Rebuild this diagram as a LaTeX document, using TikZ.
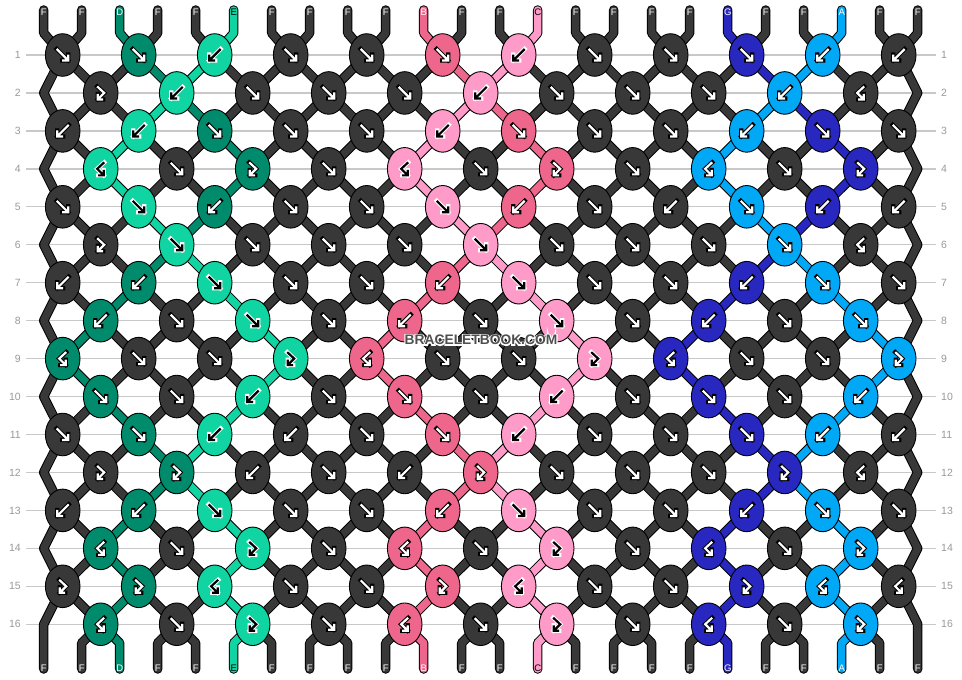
\documentclass[tikz,border=0pt]{standalone}
\usepackage{fontspec}
\setmainfont{Liberation Sans}
\definecolor{cF}{HTML}{383838}
\definecolor{cD}{HTML}{008B6C}
\definecolor{cE}{HTML}{10D4A2}
\definecolor{cB}{HTML}{EE668B}
\definecolor{cC}{HTML}{FF9BC8}
\definecolor{cG}{HTML}{2828C0}
\definecolor{cA}{HTML}{00A8F6}
\definecolor{rowline}{HTML}{C8C8C8}
\definecolor{numgray}{HTML}{999999}
\definecolor{wmgray}{HTML}{505050}
\colorlet{tF}{white}\colorlet{tD}{white}\colorlet{tE}{black}\colorlet{tB}{white}
\colorlet{tC}{black}\colorlet{tG}{white}\colorlet{tA}{white}
% knot types: 1 = forward, 2 = backward, 3 = forward-backward, 4 = backward-forward
\expandafter\def\csname types1\endcsname{1,1,2,1,1,1,2,1,1,1,2,2}
\expandafter\def\csname types2\endcsname{3,2,1,1,1,2,1,1,1,2,4}
\expandafter\def\csname types3\endcsname{2,2,1,1,1,2,1,1,1,2,1,1}
\expandafter\def\csname types4\endcsname{4,1,3,1,4,1,3,1,4,1,3}
\expandafter\def\csname types5\endcsname{1,1,2,1,1,1,2,1,2,1,2,2}
\expandafter\def\csname types6\endcsname{3,1,1,1,1,1,1,1,1,1,4}
\expandafter\def\csname types7\endcsname{2,2,1,1,1,2,1,1,1,2,1,1}
\expandafter\def\csname types8\endcsname{2,1,1,1,2,1,1,1,2,1,1}
\expandafter\def\csname types9\endcsname{4,1,1,3,4,1,1,3,4,1,1,3}
\expandafter\def\csname types10\endcsname{1,1,2,1,1,1,2,1,1,1,2}
\expandafter\def\csname types11\endcsname{1,1,2,2,1,1,2,1,1,1,2,2}
\expandafter\def\csname types12\endcsname{3,3,2,1,2,3,1,1,1,3,4}
\expandafter\def\csname types13\endcsname{2,2,1,1,1,2,1,1,1,2,1,1}
\expandafter\def\csname types14\endcsname{4,1,3,1,4,1,3,1,4,1,3}
\expandafter\def\csname types15\endcsname{3,3,4,1,1,3,4,1,1,3,4,4}
\expandafter\def\csname types16\endcsname{4,1,3,1,4,1,3,1,4,1,3}
\newcommand\knotdraw[4]{%
  \def\arrfg{white}\def\arrbg{black}%
  \if#3E\def\arrfg{black}\def\arrbg{white}\fi
  \if#3C\def\arrfg{black}\def\arrbg{white}\fi
  \filldraw[knotshape,fill=c#3] (#1,#2) ellipse [x radius=17.3pt,y radius=21.3pt];
  \ifcase#4\relax\or
    \def\icon{(-6,-6) -- (5.5,5.5) (-0.5,5.5) -- (5.5,5.5) -- (5.5,-0.5)}\or
    \def\icon{(6,-6) -- (-5.5,5.5) (0.5,5.5) -- (-5.5,5.5) -- (-5.5,-0.5)}\or
    \def\icon{(-3.5,-6.5) -- (3.5,0) -- (-3,6.5) (-3,1) -- (-3,6.5) -- (2.5,6.5)}\or
    \def\icon{(3.5,-6.5) -- (-3.5,0) -- (3,6.5) (3,1) -- (3,6.5) -- (-2.5,6.5)}\fi
  \edef\tmp{\noexpand\draw[iconout,\arrbg,shift={(#1,#2)}] \icon;
            \noexpand\draw[iconin,\arrfg,shift={(#1,#2)}] \icon;}\tmp
}
\newcommand\wmtext{BRACELETBOOK.COM}
\begin{document}
\begin{tikzpicture}[x=1pt,y=-1pt,
  lbl/.style={font=\fontsize{9.5}{10}\selectfont, inner sep=0pt},
  rownum/.style={font=\fontsize{10.5}{12}\selectfont, text=numgray, inner sep=0pt},
  wm/.style={font=\fontsize{13.8}{15}\selectfont\bfseries, inner sep=0pt},
  rowrule/.style={draw=rowline, line width=1.3pt},
  threadout/.style={line width=9.5pt, black, line cap=round, line join=round},
  threadin/.style={line width=7.5pt, line cap=round, line join=round},
  knotshape/.style={draw=black, line width=0.9pt},
  iconout/.style={line width=4.2pt, line cap=rect, line join=miter},
  iconin/.style={line width=2.2pt, line cap=butt, line join=miter}]
\useasboundingbox (0,0) rectangle (962,680);
\fill[white] (0,0) rectangle (962,680);
% row rules and numbers
\foreach \rr in {1,...,16}{%
  \pgfmathsetmacro\yy{55+(\rr-1)*37.95}%
  \draw[rowrule] (26,\yy) -- (936,\yy);
  \node[rownum,anchor=east] (ln\rr) at (21,\yy) {\rr};
  \node[rownum,anchor=west] (rn\rr) at (941,\yy) {\rr};
}
% initial threads
\foreach \lab [count=\ii from 0] in {F,F,D,F,F,E,F,F,F,F,B,F,F,C,F,F,F,F,G,F,F,A,F,F}{%
  \expandafter\xdef\csname col\ii\endcsname{\lab}%
  \expandafter\xdef\csname pos\ii\endcsname{\ii}%
  \pgfmathsetmacro\xx{43.7+38*\ii}%
  \expandafter\xdef\csname path\ii\endcsname{(\xx,10) -- (\xx,33)}%
}
\gdef\knotlist{}
% simulate the rows
\foreach \rr in {1,...,16}{%
  \pgfmathsetmacro\yy{55+(\rr-1)*37.95}%
  \foreach \p in {0,...,23}{%
    \ifodd\rr\relax
      \pgfmathsetmacro\xx{62.7+76*floor(\p/2)}%
    \else
      \ifnum\p=0\relax \def\xx{43.7}\else
        \ifnum\p=23\relax \def\xx{917.7}\else
          \pgfmathsetmacro\xx{100.7+76*floor((\p-1)/2)}%
        \fi
      \fi
    \fi
    \edef\id{\csname pos\p\endcsname}%
    \expandafter\xdef\csname path\id\endcsname{\csname path\id\endcsname\space -- (\xx,\yy)}%
  }%
  \edef\tl{\csname types\rr\endcsname}%
  \foreach \ty [count=\kk from 0] in \tl {%
    \ifodd\rr\relax
      \pgfmathtruncatemacro\posA{2*\kk}\pgfmathsetmacro\xx{62.7+76*\kk}%
    \else
      \pgfmathtruncatemacro\posA{2*\kk+1}\pgfmathsetmacro\xx{100.7+76*\kk}%
    \fi
    \pgfmathtruncatemacro\posB{\posA+1}%
    \edef\Lid{\csname pos\posA\endcsname}%
    \edef\Rid{\csname pos\posB\endcsname}%
    \ifodd\ty\relax \edef\kc{\csname col\Lid\endcsname}\else \edef\kc{\csname col\Rid\endcsname}\fi
    \xdef\knotlist{\unexpanded\expandafter{\knotlist}\noexpand\knotdraw{\xx}{\yy}{\kc}{\ty}}%
    \ifnum\ty<3\relax
      \expandafter\xdef\csname pos\posA\endcsname{\Rid}%
      \expandafter\xdef\csname pos\posB\endcsname{\Lid}%
    \fi
  }%
}
% bottom ends
\foreach \p in {0,...,23}{%
  \pgfmathsetmacro\xx{43.7+38*\p}%
  \edef\id{\csname pos\p\endcsname}%
  \ifnum\p=0\relax
    \expandafter\xdef\csname path\id\endcsname{\csname path\id\endcsname\space -- (\xx,669)}%
  \else\ifnum\p=23\relax
    \expandafter\xdef\csname path\id\endcsname{\csname path\id\endcsname\space -- (\xx,669)}%
  \else
    \expandafter\xdef\csname path\id\endcsname{\csname path\id\endcsname\space -- (\xx,643) -- (\xx,669)}%
  \fi\fi
}
% threads
\foreach \ii in {0,...,23}{%
  \edef\tmp{\noexpand\draw[threadout] \csname path\ii\endcsname;}\tmp
}
\foreach \ii in {0,...,23}{%
  \edef\cc{\csname col\ii\endcsname}%
  \edef\tmp{\noexpand\draw[threadin,c\cc] \csname path\ii\endcsname;}\tmp
}
% knots
\knotlist
% thread labels
\foreach \p in {0,...,23}{%
  \pgfmathsetmacro\xx{43.7+38*\p}%
  \edef\lab{\csname col\p\endcsname}%
  \node[lbl,text=t\lab] (top\p) at (\xx,12.7) {\lab};
  \edef\id{\csname pos\p\endcsname}%
  \edef\lab{\csname col\id\endcsname}%
  \node[lbl,text=t\lab] (bot\p) at (\xx,668) {\lab};
}
% watermark: white outline (stroked text) under the grey text, one node
\node[wm,text=wmgray] (wm) at (481,340)
  {\rlap{\special{pdf:literal q 1 Tr 2.4 w 1 1 1 RG}\wmtext}\special{pdf:literal Q}\wmtext};
\end{tikzpicture}
\end{document}
